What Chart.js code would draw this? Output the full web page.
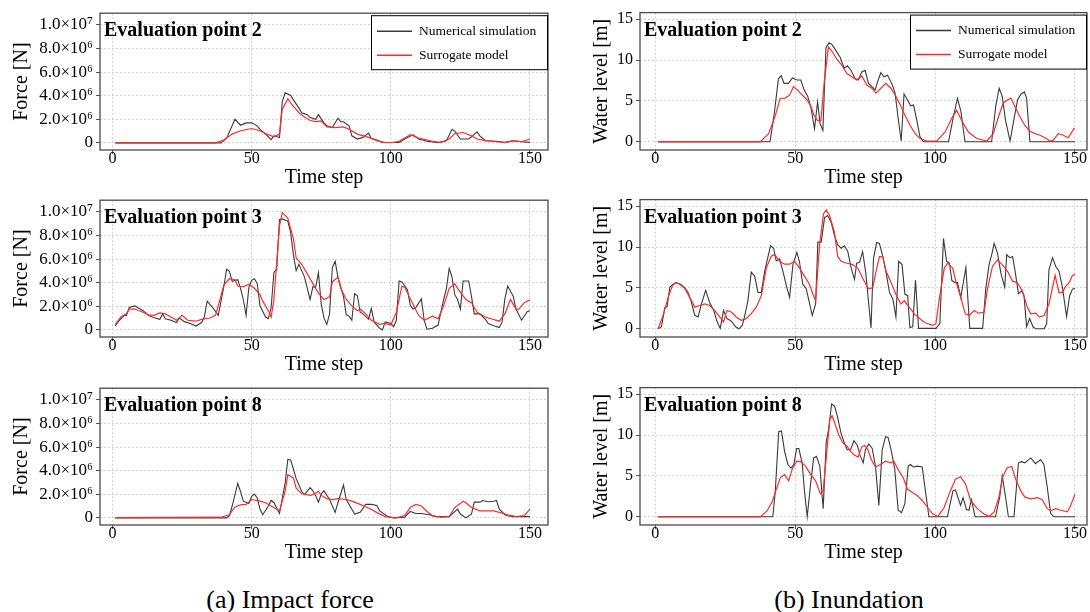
<!DOCTYPE html>
<html>
<head>
<meta charset="utf-8">
<script src="https://cdn.jsdelivr.net/npm/chart.js@4.4.0/dist/chart.umd.min.js"></script>
<style>
  html, body { margin: 0; padding: 0; background: #fff; }
  body { width: 1090px; height: 612px; position: relative; overflow: hidden;
         font-family: "Liberation Serif", "Times New Roman", serif; }
  .panel { position: absolute; }
  .caption { position: absolute; top: 585px; font-size: 26px; color: #000;
             white-space: nowrap; transform: translateX(-50%); }
</style>
</head>
<body>
<div class="panel" style="left:0;top:0"><canvas id="aP2" width="560" height="190"></canvas></div>
<div class="panel" style="left:0;top:187px"><canvas id="aP3" width="560" height="190"></canvas></div>
<div class="panel" style="left:0;top:375px"><canvas id="aP8" width="560" height="190"></canvas></div>
<div class="panel" style="left:575px;top:0"><canvas id="bP2" width="515" height="190"></canvas></div>
<div class="panel" style="left:575px;top:187px"><canvas id="bP3" width="515" height="190"></canvas></div>
<div class="panel" style="left:575px;top:375px"><canvas id="bP8" width="515" height="190"></canvas></div>
<div class="caption" style="left:290px">(a) Impact force</div>
<div class="caption" style="left:849px">(b) Inundation</div>

<script>
// time step ticks shared by every panel
const stepTicks = [0, 50, 100, 150]

// impact force, in units of 1e6 N: [time step, value]
const forceTicks = [0, 2, 4, 6, 8, 10]
const forceTickLabels = ["0", "2.0×10⁶", "4.0×10⁶", "6.0×10⁶", "8.0×10⁶", "1.0×10⁷"]

const forceP2Sim = [[1,0],[39,0],[41,0.4],[44,2.0],[46,1.5],[48,1.7],[50,1.7],[52,1.45],[53,1.15],[55,0.75],[57,0.27],[58,0.6],[60,0.45],[61,3.5],[62,4.25],[64,4.05],[65,3.65],[67,2.95],[68,2.55],[70,2.4],[71,2.15],[73,2.0],[74,2.4],[76,1.7],[77,1.45],[79,1.3],[81,2.1],[82,1.8],[83,1.8],[85,1.45],[86,0.6],[88,0.33],[90,0.47],[92,0.83],[93,0.4],[95,0.25],[97,0.03],[103,0.03],[105,0.33],[108,0.69],[110,0.33],[113,0.14],[117,0.03],[120,0.19],[122,1.16],[123,1.0],[125,0.33],[128,0.33],[129,0.52],[131,0.94],[132,0.6],[134,0.19],[138,0.14],[141,0.03],[144,0.19],[147,0.1],[150,0.05]]
const forceP2Sur = [[1,0],[37,0],[40,0.25],[43,0.75],[46,1.03],[50,1.22],[53,1.03],[56,0.7],[58,0.52],[60,0.75],[61,2.83],[63,3.75],[64,3.4],[67,2.55],[69,2.2],[71,1.9],[73,1.8],[75,1.86],[77,1.36],[80,1.3],[83,1.36],[85,1.16],[88,0.75],[92,0.47],[95,0.19],[98,0.03],[101,0.05],[103,0.14],[107,0.69],[110,0.41],[115,0.14],[118,0.03],[121,0.33],[123,0.8],[126,0.88],[129,0.6],[131,0.33],[134,0.19],[138,0.1],[141,0.05],[144,0.19],[147,0.1],[150,0.33]]

const forceP3Sim = [[1,0.33],[2,0.68],[4,1.2],[5,1.23],[6,1.9],[8,2.04],[9,1.9],[11,1.63],[13,1.23],[15,1.04],[17,0.9],[18,1.36],[19,0.95],[21,0.82],[23,0.63],[24,1.01],[26,0.68],[28,0.55],[30,0.33],[32,0.63],[33,1.09],[34,2.44],[36,1.9],[38,1.23],[40,3.66],[41,5.15],[42,4.96],[43,4.12],[45,4.26],[46,3.53],[47,2.58],[48,1.23],[49,3.61],[50,4.21],[51,4.34],[52,3.93],[53,2.04],[55,1.09],[56,0.95],[57,1.9],[58,4.88],[59,5.15],[60,9.35],[61,9.41],[63,9.22],[64,8.27],[65,6.37],[66,5.02],[67,5.56],[69,4.48],[71,2.58],[72,3.66],[73,3.61],[74,4.85],[75,2.2],[76,1.0],[77,0.47],[78,1.36],[79,5.29],[80,5.83],[81,4.48],[83,2.85],[84,1.28],[85,1.17],[86,0.82],[87,3.07],[88,2.9],[89,1.5],[90,1.36],[92,0.9],[93,1.82],[94,0.68],[96,0.14],[97,0],[98,0.68],[100,0.55],[101,0.28],[102,0.82],[103,4.15],[104,4.07],[106,3.39],[107,2.09],[108,1.77],[109,1.9],[111,2.63],[112,0.82],[113,0.06],[115,0.14],[117,0.41],[119,2.58],[120,3.53],[121,5.21],[122,4.48],[123,2.99],[124,2.58],[125,1.77],[126,4.15],[128,4.15],[129,2.85],[130,1.36],[132,1.36],[134,0.9],[135,0.55],[137,0.36],[139,0.2],[140,0.68],[141,2.63],[142,3.72],[144,2.85],[145,1.77],[147,0.82],[149,1.55],[150,1.63]]
const forceP3Sur = [[1,0.47],[3,1.09],[5,1.36],[6,1.77],[8,1.77],[11,1.5],[13,1.28],[15,1.23],[17,1.44],[19,1.36],[21,1.09],[23,0.82],[25,1.23],[27,0.82],[30,0.74],[32,0.9],[35,1.01],[37,1.23],[38,2.04],[40,3.8],[42,4.34],[44,4.26],[45,3.72],[47,3.66],[49,3.88],[51,3.53],[53,2.99],[54,2.44],[56,1.63],[57,1.09],[58,2.58],[60,8.81],[61,9.95],[63,9.49],[65,7.73],[66,6.1],[68,5.56],[70,4.75],[72,3.93],[74,3.12],[76,2.58],[78,2.8],[79,4.07],[81,4.48],[82,3.53],[84,2.58],[86,2.04],[88,1.63],[89,1.77],[91,1.36],[93,0.82],[96,0.47],[98,0.55],[100,0.41],[102,1.5],[104,3.72],[105,3.61],[108,2.17],[110,1.23],[112,0.82],[115,1.17],[117,0.95],[119,2.04],[121,3.53],[123,3.93],[124,3.53],[127,2.58],[129,2.31],[131,1.5],[134,1.09],[136,0.95],[139,0.74],[141,1.36],[143,2.58],[145,1.77],[146,1.77],[148,2.31],[150,2.55]]

const forceP8Sim = [[1,0],[41,0],[42,0.19],[43,1.01],[45,2.92],[46,2.24],[47,1.42],[49,1.23],[50,1.83],[51,2.02],[52,1.7],[53,0.74],[54,0.27],[56,1.01],[57,1.48],[58,1.29],[60,0.38],[62,2.92],[63,4.97],[64,4.92],[65,4.15],[66,3.33],[68,2.24],[69,1.97],[71,2.57],[72,2.3],[73,1.89],[74,1.34],[75,2.02],[76,2.3],[78,1.56],[80,0.47],[81,1.29],[83,2.79],[84,1.56],[86,0.74],[87,0.33],[89,0.47],[91,1.15],[93,1.15],[95,1.05],[96,0.6],[99,0.11],[101,0],[105,0.06],[107,0.55],[109,0.38],[111,0.38],[114,0.27],[116,0.11],[121,0.11],[124,0.74],[125,0.33],[127,0],[129,0.33],[130,1.34],[132,1.34],[133,1.48],[135,1.37],[137,1.42],[138,1.48],[139,0.74],[141,0.27],[142,0.19],[144,0.11],[150,0.11]]
const forceP8Sur = [[1,0.03],[39,0.06],[42,0.27],[44,0.93],[46,1.1],[48,1.15],[50,1.56],[53,1.42],[55,1.29],[57,1.01],[60,0.6],[62,2.24],[63,3.66],[65,3.39],[66,2.52],[68,2.05],[71,1.91],[72,1.97],[74,2.24],[75,1.91],[77,1.64],[79,1.56],[81,1.64],[84,1.56],[86,1.42],[89,1.15],[91,0.93],[93,0.74],[95,0.45],[98,0.11],[102,0],[105,0.19],[107,0.88],[109,1.15],[111,1.01],[113,0.55],[115,0.19],[118,0.06],[121,0.11],[123,0.88],[126,1.42],[127,1.29],[129,0.88],[132,0.6],[135,0.6],[137,0.6],[139,0.47],[142,0.27],[145,0.11],[148,0.19],[150,0.74]]

// inundation water level in m: [time step, value]
const levelTicks = [0, 5, 10, 15]
const levelTickLabels = ["0", "5", "10", "15"]

const levelP2Sim = [[1,0],[41,0],[42.5,3.4],[44,7.7],[45,8.1],[46,7.15],[47.6,7.15],[49,7.8],[50.6,7.55],[52,7.55],[53.2,6.35],[54.5,5.55],[55.6,4.2],[56.9,1.6],[58,4.9],[58.9,2.2],[59.9,1.4],[61,11.5],[62.1,12.1],[63.1,11.9],[64.3,11.3],[66.1,10.3],[67.5,9.0],[68.7,9.3],[69.9,8.75],[71.4,7.75],[72.6,7.55],[73.8,8.55],[75,8.75],[76.2,7.15],[77.4,6.75],[78.6,6.35],[79.4,7.3],[80.6,8.45],[81.8,7.95],[83,8.15],[84.5,7.15],[85.7,5.95],[86.9,2.6],[87.9,0.1],[88.9,5.85],[90.1,5.15],[91.3,4.4],[92.3,4.5],[93.5,2.6],[94.6,0.6],[95.8,0],[104.8,0],[106.5,3.0],[108,5.3],[109.2,3.8],[110.7,0],[120.2,0],[121.7,4.4],[122.9,6.55],[124,5.55],[125.2,2.6],[126.8,0.1],[128,2.4],[129.5,5.15],[130.7,5.85],[131.9,6.1],[132.7,5.35],[133.9,0],[150,0]]
const levelP2Sur = [[1,0],[37.5,0],[40.5,1.0],[42.9,3.2],[44.6,5.3],[46.4,5.35],[48,5.7],[49.4,6.75],[50.8,6.35],[52.4,5.75],[54.2,5.15],[55.6,4.35],[56.8,3.2],[58,2.6],[59.2,2.6],[60.4,7.35],[61.9,11.6],[63.1,11.1],[64.9,10.1],[66.7,9.35],[68.5,8.35],[70.2,7.95],[72,7.55],[73.8,8.05],[75.6,6.95],[77.4,6.55],[78.9,5.95],[80.6,6.55],[82.4,7.15],[84.2,6.55],[85.7,5.75],[87.5,4.55],[89.3,3.2],[91.1,2.0],[92.9,1.0],[94.6,0.4],[97,0.1],[100.6,0.1],[103.6,1.2],[106,2.9],[107.7,3.85],[109.5,2.6],[111.9,1.2],[114.9,0.4],[118.5,0.1],[120.8,1.0],[122.6,3.0],[124.4,4.75],[126,5.15],[127.1,5.35],[128.6,4.25],[130.4,3.0],[132.1,2.0],[133.9,1.3],[135.7,1.0],[137.5,0.8],[139.3,0.5],[141.1,0.1],[142.3,0.2],[144,1.0],[145.8,0.8],[147.6,0.5],[149.8,1.7]]

const levelP3Sim = [[1,0],[2.2,0.25],[3.4,2.6],[4.2,2.7],[5.2,5.1],[6.4,5.45],[7.5,5.65],[9,5.45],[10.5,5.05],[11.7,4.45],[12.9,3.25],[14.1,1.65],[15.3,1.45],[16.5,3.05],[18,4.7],[19.4,3.25],[20.9,2.25],[22,0.95],[23.2,0.05],[24.4,2.25],[25.6,1.25],[27.2,0.95],[28.7,0.25],[29.9,0],[31.1,0.45],[31.9,1.5],[33.1,3.45],[34.3,6.95],[35.5,6.45],[36.7,4.45],[37.9,4.45],[39.1,7.05],[40.3,8.85],[41.2,10.15],[42.3,9.85],[43.2,8.3],[44.4,8.55],[45.6,7.05],[47,5.05],[48,3.85],[49.2,7.85],[50.6,9.35],[51.5,8.25],[52.7,5.45],[53.9,4.95],[54.9,3.45],[56.1,1.65],[57.3,3.05],[58.1,10.6],[59.3,10.6],[60.5,13.6],[61.6,13.85],[62.8,13.1],[64,11.45],[65.2,10.25],[66.4,9.85],[67.6,10.15],[68.8,9.45],[70,7.45],[71.2,6.05],[72,8.05],[73,8.1],[74.1,9.45],[75.2,6.9],[76.3,3.0],[77.1,0.1],[78,8.65],[79.1,10.55],[80.1,10.45],[81.3,8.85],[82.5,6.85],[83.7,4.45],[84.9,3.65],[86,1.45],[87,8.25],[88.2,7.85],[89.2,4.25],[90.2,4.05],[91,0.15],[92,0.25],[93,5.95],[94.1,0.05],[100.3,0.05],[101.7,0.65],[103,11.05],[104.1,8.25],[105.1,8.05],[106,5.9],[107.2,5.65],[108,5.65],[109.2,3.85],[111,7.5],[112.4,0.05],[117,0.05],[118.1,4.85],[119.3,7.85],[120.5,9.45],[121.1,10.45],[122.3,9.25],[123.5,6.85],[124.9,5.1],[125.6,9.05],[126.7,8.7],[127.7,8.85],[128.6,7.05],[129.8,4.3],[131,4.65],[131.8,4.05],[132.7,0.25],[133.8,1.25],[135,0.25],[136,0],[139,0],[139.9,0.65],[140.7,7.25],[142,8.7],[143.1,7.65],[144.3,7.05],[145.5,5.1],[147,1.5],[148.1,4.05],[149.1,4.85],[150,4.95]]
const levelP3Sur = [[1,0],[2.8,1.65],[4.6,3.85],[6.1,5.25],[7.3,5.65],[8.7,5.45],[10.5,4.95],[12.3,3.85],[14.1,2.65],[15.9,2.85],[17.7,3.05],[19.4,2.85],[21.2,2.25],[23,1.45],[24.4,0.85],[25.6,2.25],[27.2,2.05],[28.9,1.45],[30.7,1.05],[32.5,1.25],[34.3,1.85],[36.1,2.65],[37.9,4.05],[39.7,7.45],[41.4,8.85],[42.6,9.1],[44.4,8.25],[46.2,7.9],[48,7.9],[49.8,8.25],[51.5,7.45],[53.3,6.45],[55.1,5.45],[56.3,4.25],[57.3,3.45],[58.7,10.25],[60.1,14.05],[61.1,14.55],[62.3,13.85],[64,11.85],[65.2,8.85],[66.4,8.25],[68.2,8.05],[70.6,7.85],[72.4,7.4],[74.4,6.0],[76.2,4.9],[77.7,5.03],[78.9,7.03],[80.1,8.83],[81.3,8.83],[82.5,7.03],[84.3,5.63],[86,4.23],[87.8,3.03],[89,3.43],[90.8,2.63],[92.6,1.83],[95,1.11],[96.7,0.71],[99.1,0.43],[100.3,0.63],[101.5,3.63],[103.3,7.43],[104.5,8.03],[106.3,7.43],[107.4,5.83],[109.2,3.83],[110.8,1.83],[112.2,1.63],[114,2.23],[115.5,1.91],[117.5,2.03],[118.7,4.83],[120.5,7.63],[122.3,8.43],[124.1,7.83],[125.9,7.03],[127.7,5.83],[129.4,5.63],[131.2,4.63],[133,2.63],[134.2,1.83],[136,1.91],[137.2,1.43],[139,1.63],[140.7,3.03],[142.9,6.55],[144.3,4.43],[145.5,4.43],[146.7,5.23],[147.9,5.63],[149.1,6.55],[150,6.63]]

const levelP8Sim = [[1,0],[42,0],[42.9,3.2],[44.1,10.4],[45.1,10.5],[46.2,8.0],[47.4,6.4],[48.5,5.95],[49.5,6.4],[50.5,8.35],[51.3,8.35],[52.5,6.6],[53.3,3.2],[54.3,0],[55.5,4.0],[56.6,7.2],[57.6,7.4],[58.8,6.2],[60,1.0],[61.1,9.2],[62,10.8],[63,13.8],[64.1,13.55],[65.2,12.1],[66.4,10.2],[67.6,9.0],[68.6,8.2],[69.8,8.2],[71,9.3],[72.2,8.75],[73.1,7.6],[74.3,6.6],[75.1,8.2],[76.3,8.9],[77.5,8.4],[78.7,6.2],[79.9,1.4],[81.1,8.2],[82.3,9.8],[83.2,9.7],[84.4,8.0],[85.6,5.8],[86.8,0.8],[88,0.5],[89.2,1.6],[90.4,6.2],[91.2,6.4],[92.2,6.1],[93.6,6.2],[95.4,6.1],[96.6,3.0],[97.8,0],[104.4,0],[106.4,3.2],[107.3,3.3],[109.1,1.4],[110,2.35],[111.2,0.9],[112.1,0.8],[113,2.1],[114.3,0],[121.6,0],[123.1,2.4],[124,5.0],[125.2,2.4],[126.2,0],[128.2,0],[129.8,6.6],[130.9,6.75],[132.1,6.6],[134.2,7.2],[135.9,6.5],[137.7,7.0],[138.9,6.4],[140.1,3.6],[141.3,0.4],[142.5,0],[150,0]]
const levelP8Sur = [[1,0],[37.6,0],[40,0.75],[41.7,1.8],[43.5,3.6],[44.7,4.8],[46.2,5.15],[47.7,4.4],[48.9,5.8],[50.5,6.8],[51.9,6.75],[53.7,6.2],[55.5,5.2],[57.3,4.4],[59,2.8],[60,3.2],[61.2,7.6],[62.4,12.0],[63.2,12.35],[64.4,11.2],[65.6,10.0],[67.1,9.0],[68.6,8.6],[69.8,8.0],[71,7.6],[72.5,7.3],[73.7,8.5],[74.8,8.75],[76,8.2],[77.2,7.0],[78.7,6.1],[80.5,6.4],[82.3,6.8],[84.1,6.6],[85.3,6.75],[87.1,5.6],[88.6,4.8],[90.1,3.4],[91.8,3.0],[93.6,2.6],[95.4,2.0],[97.2,1.2],[99,0.4],[101,0.05],[103.2,1.1],[105.5,3.2],[107.3,4.6],[109.1,4.9],[110.9,4.0],[112.7,2.0],[115.1,1.0],[117.5,0.35],[119.3,0.05],[121.1,0.6],[122.8,2.4],[124.3,5.0],[125.8,6.0],[127.4,6.15],[128.8,4.6],[130.6,3.2],[132.1,2.4],[134.2,2.2],[136.6,2.35],[138.3,2.1],[140.1,1.0],[141.3,0.75],[143.1,1.0],[144.9,0.8],[147.3,0.6],[148.5,1.4],[150,2.75]]

const SERIF = '"Liberation Serif", "Times New Roman", serif'
const SIM_COLOR = "#3a3a3a"
const SUR_COLOR = "#ff2b2b"
const GRID_COLOR = "#d2d2d2"
const AXIS_COLOR = "#555555"

Chart.defaults.font.family = SERIF
Chart.defaults.color = "#000"

const toXY = pairs => pairs.map(([x, y]) => ({ x, y }))

// frame, panel title and (optional) legend box
const decor = {
  id: "decor",
  afterDraw(chart, args, opts) {
    const { ctx, chartArea: a } = chart
    ctx.save()
    ctx.strokeStyle = "#4a4a4a"
    ctx.lineWidth = 1.3
    ctx.strokeRect(a.left, a.top, a.right - a.left, a.bottom - a.top)

    ctx.fillStyle = "#000"
    ctx.font = "bold 20px " + SERIF
    ctx.textBaseline = "middle"
    ctx.textAlign = "left"
    ctx.fillText(opts.title, a.left + 4, a.top + 18)

    if (opts.legend) {
      const w = 176, h = 54
      const x = a.right - w - 1, y = a.top + 2
      ctx.fillStyle = "#fff"
      ctx.fillRect(x, y, w, h)
      ctx.strokeStyle = "#000"
      ctx.lineWidth = 1
      ctx.strokeRect(x + 0.5, y + 0.5, w, h)
      const rows = [["Numerical simulation", SIM_COLOR, 16], ["Surrogate model", SUR_COLOR, 40]]
      ctx.font = "13.5px " + SERIF
      rows.forEach(([text, color, dy]) => {
        ctx.strokeStyle = color
        ctx.lineWidth = 1.5
        ctx.beginPath()
        ctx.moveTo(x + 6, y + dy)
        ctx.lineTo(x + 41, y + dy)
        ctx.stroke()
        ctx.fillStyle = "#000"
        ctx.fillText(text, x + 48, y + dy)
      })
    }
    ctx.restore()
  }
}

function makePanel(id, sim, sur, cfg) {
  return new Chart(document.getElementById(id), {
    type: "line",
    data: {
      datasets: [
        { label: "Surrogate model", data: toXY(sur), borderColor: SUR_COLOR, borderWidth: 1.2, pointRadius: 0, tension: 0, order: 0 },
        { label: "Numerical simulation", data: toXY(sim), borderColor: SIM_COLOR, borderWidth: 1.1, pointRadius: 0, tension: 0, order: 1 }
      ]
    },
    options: {
      responsive: false,
      animation: false,
      events: [],
      layout: { padding: { top: 10, right: cfg.padRight, left: 0, bottom: 0 } },
      plugins: {
        legend: { display: false },
        tooltip: { enabled: false },
        decor: { title: cfg.title, legend: cfg.legend }
      },
      scales: {
        x: {
          type: "linear",
          min: cfg.xMin,
          max: cfg.xMax,
          afterBuildTicks: s => { s.ticks = stepTicks.map(v => ({ value: v })) },
          afterFit: s => { s.height = 40 },
          ticks: { font: { size: 16 }, color: "#000", padding: -5, maxRotation: 0, callback: v => String(v) },
          grid: { color: GRID_COLOR, tickColor: AXIS_COLOR, tickLength: 4 },
          border: { display: false, dash: [2, 2] },
          title: { display: true, text: "Time step", font: { size: 20 }, color: "#000", padding: { top: 0, bottom: 0 } }
        },
        y: {
          min: cfg.yMin,
          max: cfg.yMax,
          afterBuildTicks: s => { s.ticks = cfg.yTicks.map(v => ({ value: v })) },
          afterFit: s => { s.width = cfg.yWidth },
          ticks: { font: { size: cfg.yTickSize }, color: "#000", padding: 3, callback: (v, i) => cfg.yLabels[i] },
          grid: { color: GRID_COLOR, tickColor: AXIS_COLOR, tickLength: 4 },
          border: { display: false, dash: [2, 2] },
          title: { display: true, text: cfg.yTitle, font: { size: 20 }, color: "#000", padding: { top: cfg.yTitlePad, bottom: 0 } }
        }
      }
    },
    plugins: [decor]
  })
}

const forceAxis = {
  xMin: -4.5, xMax: 156.5, padRight: 12,
  yMin: -0.6, yMax: 11.0, yTicks: forceTicks, yLabels: forceTickLabels,
  yWidth: 100, yTickSize: 17, yTitle: "Force [N]", yTitlePad: 10
}
const levelAxis = {
  xMin: -5.47, xMax: 154.3, padRight: 3,
  yMin: -1.0, yMax: 15.8, yTicks: levelTicks, yLabels: levelTickLabels,
  yWidth: 65, yTickSize: 16, yTitle: "Water level [m]", yTitlePad: 15
}

makePanel("aP2", forceP2Sim, forceP2Sur, { ...forceAxis, title: "Evaluation point 2", legend: true })
makePanel("aP3", forceP3Sim, forceP3Sur, { ...forceAxis, title: "Evaluation point 3", legend: false })
makePanel("aP8", forceP8Sim, forceP8Sur, { ...forceAxis, title: "Evaluation point 8", legend: false })
makePanel("bP2", levelP2Sim, levelP2Sur, { ...levelAxis, title: "Evaluation point 2", legend: true })
makePanel("bP3", levelP3Sim, levelP3Sur, { ...levelAxis, title: "Evaluation point 3", legend: false })
makePanel("bP8", levelP8Sim, levelP8Sur, { ...levelAxis, title: "Evaluation point 8", legend: false })
</script>
</body>
</html>
